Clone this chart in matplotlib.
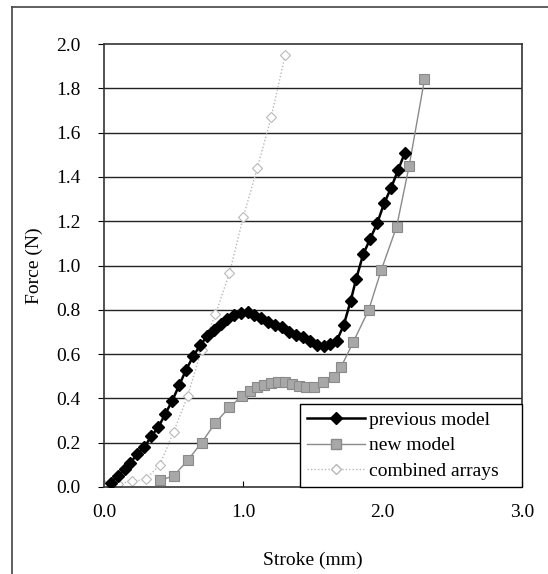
import matplotlib
matplotlib.use("Agg")
import matplotlib.pyplot as plt
from matplotlib.lines import Line2D

plt.rcParams["font.family"] = ["Liberation Serif", "DejaVu Serif"]

# previous model (black diamonds)
prev_x = [0.05, 0.10, 0.15, 0.19, 0.24, 0.29, 0.34, 0.39, 0.44, 0.49,
          0.54, 0.59, 0.64, 0.69, 0.74, 0.79, 0.84, 0.88, 0.93, 0.98,
          1.03, 1.08, 1.13, 1.18, 1.23, 1.28, 1.33, 1.38, 1.43, 1.48,
          1.53, 1.58, 1.62, 1.67, 1.72, 1.77, 1.81, 1.86, 1.91, 1.96,
          2.01, 2.06, 2.11, 2.16]
prev_y = [0.02, 0.05, 0.08, 0.11, 0.15, 0.18, 0.23, 0.27, 0.33, 0.39,
          0.46, 0.53, 0.59, 0.64, 0.68, 0.71, 0.735, 0.76, 0.775, 0.785,
          0.79, 0.778, 0.762, 0.747, 0.732, 0.722, 0.70, 0.688, 0.675, 0.66,
          0.642, 0.635, 0.645, 0.66, 0.73, 0.84, 0.94, 1.05, 1.12, 1.19,
          1.28, 1.35, 1.43, 1.51]

# new model (grey squares)
new_x = [0.40, 0.50, 0.60, 0.70, 0.80, 0.90, 0.99, 1.05, 1.10, 1.15,
         1.20, 1.25, 1.30, 1.35, 1.40, 1.45, 1.51, 1.57, 1.65, 1.70,
         1.79, 1.90, 1.99, 2.10, 2.19, 2.30]
new_y = [0.03, 0.05, 0.12, 0.20, 0.29, 0.36, 0.41, 0.435, 0.452, 0.46,
         0.468, 0.475, 0.475, 0.465, 0.456, 0.45, 0.453, 0.475, 0.498, 0.54,
         0.656, 0.80, 0.98, 1.175, 1.45, 1.84]

# combined arrays (light grey, dotted)
comb_x = [0.0, 0.1, 0.2, 0.3, 0.4, 0.5, 0.6, 0.7, 0.8, 0.9, 1.0, 1.1, 1.2, 1.3]
comb_y = [0.01, 0.015, 0.025, 0.035, 0.10, 0.25, 0.41, 0.62, 0.78, 0.965,
          1.22, 1.44, 1.67, 1.95]

x_ticks = [0.0, 1.0, 2.0, 3.0]
y_ticks = [0.0, 0.2, 0.4, 0.6, 0.8, 1.0, 1.2, 1.4, 1.6, 1.8, 2.0]

fig = plt.figure(figsize=(5.48, 5.74), dpi=100)
ax = fig.add_axes([0.1898, 0.1516, 0.7628, 0.7717])

for y in y_ticks[1:-1]:
    ax.axhline(y, color="#222222", lw=1.0, zorder=1)

ax.plot(comb_x, comb_y, color="#b8b8b8", lw=1.0, ls=(0, (1, 1.5)),
        marker="D", ms=5, mfc="white", mec="#b8b8b8", mew=0.8, zorder=2,
        label="combined arrays")
ax.plot(new_x, new_y, color="#8a8a8a", lw=1.0,
        marker="s", ms=7, mfc="#a8a8a8", mec="#8a8a8a", mew=0.8, zorder=3,
        label="new model")
ax.plot(prev_x, prev_y, color="black", lw=1.8,
        marker="D", ms=6.5, mfc="black", mec="black", zorder=4,
        label="previous model")

ax.set_xlim(0, 3)
ax.set_ylim(0, 2)
ax.set_xticks(x_ticks)
ax.set_yticks(y_ticks)
ax.set_xticklabels([f"{v:.1f}" for v in x_ticks])
ax.set_yticklabels([f"{v:.1f}" for v in y_ticks])
ax.tick_params(axis="x", direction="in", length=4, pad=12, labelsize=14)
ax.tick_params(axis="y", direction="out", length=4, pad=13, labelsize=14)
for s in ax.spines.values():
    s.set_color("#333333")
    s.set_linewidth(1.2)

ax.set_xlabel("Stroke (mm)", fontsize=14, labelpad=22)
ax.set_ylabel("Force (N)", fontsize=14, labelpad=9)

handles = [
    Line2D([], [], color="black", lw=1.8, marker="D", ms=6.5, mfc="black"),
    Line2D([], [], color="#8a8a8a", lw=1.0, marker="s", ms=7,
           mfc="#a8a8a8", mec="#8a8a8a"),
    Line2D([], [], color="#b8b8b8", lw=1.0, ls=(0, (1, 1.5)), marker="D",
           ms=5, mfc="white", mec="#b8b8b8"),
]
leg = ax.legend(handles, ["previous model", "new model", "combined arrays"],
                loc="lower left", bbox_to_anchor=(0.469, 0.0, 0.531, 0.2),
                mode="expand", fontsize=14, frameon=True, fancybox=False,
                borderaxespad=0, handlelength=3.0, handletextpad=0.2,
                labelspacing=0.42, borderpad=0.35, framealpha=1)
leg.get_frame().set_edgecolor("black")
leg.get_frame().set_linewidth(1.0)
leg.set_zorder(5)

# outer chart frame (top and left edges visible)
fig.add_artist(Line2D([12 / 548, 1.0], [1 - 7 / 574, 1 - 7 / 574],
                      color="#444444", lw=1.2))
fig.add_artist(Line2D([12 / 548, 12 / 548], [0.0, 1 - 7 / 574],
                      color="#444444", lw=1.2))

fig.savefig("out.png", dpi=100)
